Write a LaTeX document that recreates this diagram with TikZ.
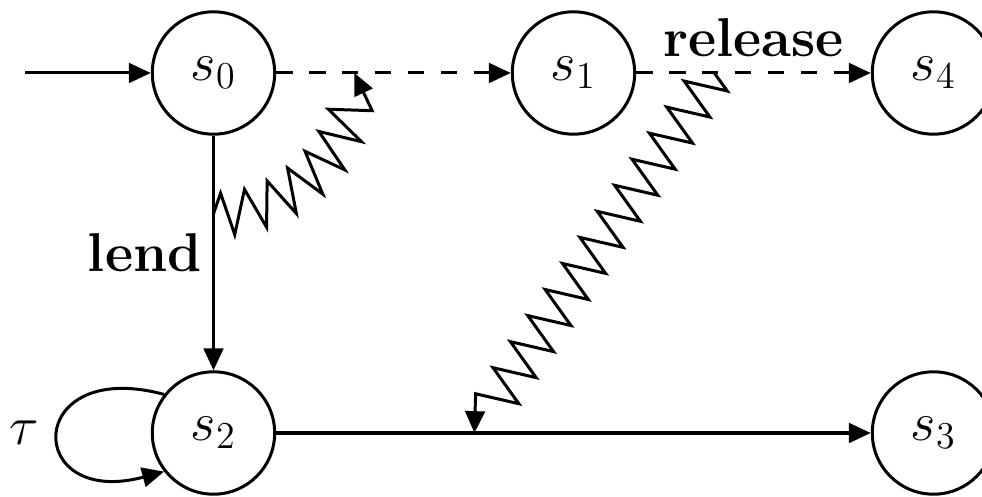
\documentclass[tikz,border=0pt]{standalone}
\usepackage{amsmath}
\usetikzlibrary{arrows.meta,decorations}

% plain zigzag: whole teeth only, then straight to the end point
\pgfdeclaredecoration{zigline}{tooth}{
  \state{tooth}[width=+\pgfdecorationsegmentlength]{
    \pgfpathlineto{\pgfpoint{0.25\pgfdecorationsegmentlength}{\pgfdecorationsegmentamplitude}}
    \pgfpathlineto{\pgfpoint{0.75\pgfdecorationsegmentlength}{-\pgfdecorationsegmentamplitude}}
  }
  \state{final}{\pgfpathlineto{\pgfpointdecoratedpathlast}}
}

\tikzset{
  state/.style={draw,circle,minimum size=1.36cm,inner sep=0pt},
  dashedge/.style={dash pattern=on 5.2pt off 5.2pt},
  leadsto/.style={decorate,decoration={zigline,amplitude=0.23cm,segment length=#1}},
  leadsto/.default=0.348cm
}

\begin{document}
\begin{tikzpicture}[line width=0.95pt,font=\LARGE,>={Triangle[length=6.9pt,width=6.2pt]}]
  \useasboundingbox (-2.372,-4.711) rectangle (8.539,0.811);
  \node[state] (s0) at (0,0) {$s_0$};
  \node[state] (s1) at (4,0) {$s_1$};
  \node[state] (s4) at (8,0) {$s_4$};
  \node[state] (s2) at (0,-4) {$s_2$};
  \node[state] (s3) at (8,-4) {$s_3$};
  \coordinate (init) at (-2.094,0);
  % transitions
  \draw[->] (init) -- (s0);
  \draw[->,dashedge] (s0) -- (s1) coordinate[pos=1/3] (c01);
  \draw[->,dashedge] (s1) -- (s4) coordinate[pos=1/3] (c14) node[midway,above,yshift=1.2pt]{\textbf{release}};
  \draw[->] (s0) -- (s2) coordinate[pos=1/3] (c02) node[midway,left]{\textbf{lend}};
  \draw[->] (s2) -- (s3) coordinate[pos=1/3] (c23);
  \draw[->] (s2.142) .. controls +(165:1.62) and +(195:1.62) .. (s2.218) node[midway,left,xshift=-2.5pt]{$\tau$};
  % zigzag arrows between transitions
  \draw[->,leadsto=0.315cm] (c02) to[bend right=45] (c01);
  \draw[->,leadsto] (c14) -- (c23);
\end{tikzpicture}
\end{document}
